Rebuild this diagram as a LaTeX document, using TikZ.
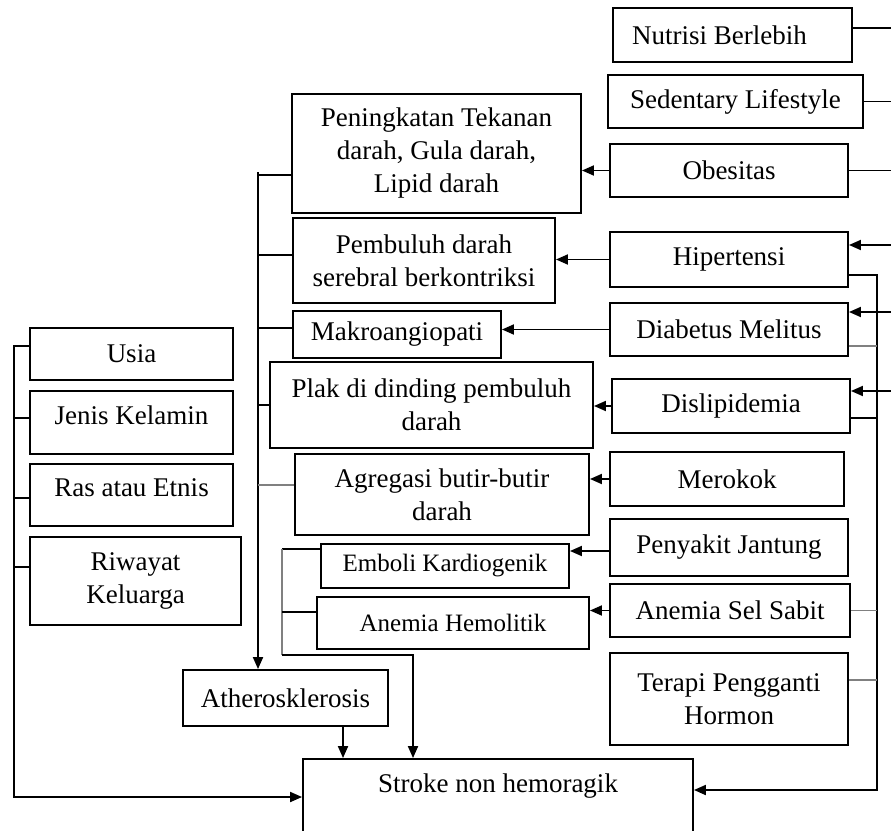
\documentclass[tikz,border=0pt]{standalone}
\usepackage{fontspec}
\setmainfont{Liberation Serif}
\usetikzlibrary{arrows.meta}
\begin{document}
\begin{tikzpicture}[x=1pt,y=-1pt,
  box/.style={draw, line width=1.9pt, inner sep=0pt, align=center, font=\fontsize{27}{33}\selectfont},
  sbox/.style={box, font=\fontsize{25}{30}\selectfont},
  upbit/.style={text height=19pt, text depth=16pt},
  ln/.style={line width=1.9pt},
  arr/.style={ln, -{Triangle[length=12pt,width=10pt]}},
  rarr/.style={ln, {Triangle[length=12pt,width=10pt]}-},
  gr/.style={draw=black!50}]
\useasboundingbox (0,0) rectangle (891,830);
% right column
\node[box, minimum width=239pt, minimum height=54pt] (nutrisi) at (732.5,35) {Nutrisi Berlebih\hspace*{26pt}};
\node[box, minimum width=255pt, minimum height=53pt] (sedentary) at (735.5,101.5) {Sedentary Lifestyle};
\node[box, minimum width=238pt, minimum height=53pt] (obesitas) at (729,170.5) {Obesitas};
\node[box, minimum width=238pt, minimum height=55pt] (hipertensi) at (729,259.5) {Hipertensi};
\node[box, minimum width=238pt, minimum height=53pt] (dm) at (729,329.5) {Diabetus Melitus};
\node[box, minimum width=238pt, minimum height=54pt] (dislip) at (731,406) {Dislipidemia};
\node[box, minimum width=234pt, minimum height=54pt] (merokok) at (727,479) {Merokok};
\node[box, minimum width=238pt, minimum height=57pt] (jantung) at (729,547.5) {Penyakit Jantung};
\node[box, minimum width=240pt, minimum height=53pt] (sabit) at (730,610.5) {Anemia Sel Sabit};
\node[box, minimum width=238pt, minimum height=92pt] (terapi) at (729,699) {Terapi Pengganti\\Hormon};
% middle column
\node[box, minimum width=289pt, minimum height=119pt] (tekanan) at (436.5,153.5) {Peningkatan Tekanan\\darah, Gula darah,\\Lipid darah};
\node[box, minimum width=262pt, minimum height=85pt] (pembuluh) at (424,260.5) {Pembuluh darah\\serebral berkontriksi};
\node[box, minimum width=208pt, minimum height=47pt] (makro) at (397,334.5) {Makroangiopati};
\node[box, minimum width=323pt, minimum height=86pt] (plak) at (431.5,405) {Plak di dinding pembuluh\\darah};
\node[box, minimum width=294pt, minimum height=81pt] (agregasi) at (442,494.5) {Agregasi butir-butir\\darah};
\node[sbox, minimum width=248pt, minimum height=44pt] (emboli) at (445,566) {Emboli Kardiogenik};
\node[sbox, minimum width=272pt, minimum height=52pt] (hemolitik) at (453,623) {Anemia Hemolitik};
\node[box, minimum width=205pt, minimum height=56pt] (athero) at (285.5,698) {Atherosklerosis};
\node[box, minimum width=390pt, minimum height=82pt, text height=20pt, text depth=36pt] (stroke) at (498,800) {Stroke non hemoragik};
% left column
\node[box, minimum width=203pt, minimum height=52pt] (usia) at (131.5,354) {Usia};
\node[box, upbit, minimum width=203pt, minimum height=63pt] (jenis) at (131.5,422.5) {Jenis Kelamin};
\node[box, upbit, minimum width=203pt, minimum height=62pt] (ras) at (131.5,495) {Ras atau Etnis};
\node[box, minimum width=211pt, minimum height=88pt] (riwayat) at (135.5,581) {Riwayat\\Keluarga};

% inputs from the right edge
\draw[ln] ([yshift=7pt]nutrisi.east) -- ++(45,0);
\draw[ln] (sedentary.east) -- ++(35,0);
\draw[ln] (obesitas.east) -- ++(50,0);
\draw[rarr] ([yshift=14.5pt]hipertensi.east) -- ++(50,0);
\draw[rarr] ([yshift=17.5pt]dm.east) -- ++(50,0);
\draw[rarr] ([yshift=15pt]dislip.east) -- ++(50,0);

% right column to middle column
\draw[arr] (obesitas.west) -- (obesitas.west -| tekanan.east);
\draw[arr] (hipertensi.west) -- (hipertensi.west -| pembuluh.east);
\draw[arr] (dm.west) -- (dm.west -| makro.east);
\draw[arr] (dislip.west) -- (dislip.west -| plak.east);
\draw[arr] (merokok.west) -- (merokok.west -| agregasi.east);
\coordinate (jw) at ([yshift=-3.5pt]jantung.west);
\draw[arr] (jw) -- (jw -| emboli.east);
\draw[arr] (sabit.west) -- (sabit.west -| hemolitik.east);

% right bus to stroke
\coordinate (rb) at (877,790);
\draw[arr] ([yshift=-15.5pt]hipertensi.east) -| (rb) -- (rb -| stroke.east);
\coordinate (dmo) at ([yshift=-16.5pt]dm.east);
\draw[ln,gr] (dmo) -- (dmo -| rb);
\coordinate (dlo) at ([yshift=-12pt]dislip.east);
\draw[ln] (dlo) -- (dlo -| rb);
\draw[ln,gr] (sabit.east) -- (sabit.east -| rb);
\coordinate (tpo) at ([yshift=19pt]terapi.east);
\draw[ln,gr] (tpo) -- (tpo -| rb);

% middle bus to atherosklerosis
\coordinate (lbt) at (258,172);
\draw[arr] (lbt) -- (lbt |- athero.north);
\coordinate (b1) at ([yshift=-21.5pt]tekanan.west);
\draw[ln] (b1) -- (b1 -| lbt);
\coordinate (b2) at ([yshift=5.5pt]pembuluh.west);
\draw[ln] (b2) -- (b2 -| lbt);
\coordinate (b3) at ([yshift=6.5pt]makro.west);
\draw[ln] (b3) -- (b3 -| lbt);
\draw[ln] (plak.west) -- (plak.west -| lbt);
\coordinate (b5) at ([yshift=9.5pt]agregasi.west);
\draw[ln,gr] (b5) -- (b5 -| lbt);

% emboli / hemolitik bus to stroke
\coordinate (et) at (282,655);
\coordinate (ed) at (413,655);
\coordinate (ew) at ([yshift=17pt]emboli.west);
\draw[ln] (ew) -- (ew -| et);
\draw[ln,gr] (ew -| et) -- (et);
\draw[arr] (et) -- (ed) -- (ed |- stroke.north);
\coordinate (hw) at ([yshift=11pt]hemolitik.west);
\draw[ln] (hw) -- (hw -| et);

% atherosklerosis to stroke
\coordinate (as) at ([xshift=57.5pt]athero.south);
\draw[arr] (as) -- (as |- stroke.north);

% left bus to stroke
\coordinate (lc) at (14,797);
\coordinate (uw) at ([yshift=8pt]usia.west);
\draw[arr] (uw) -| (lc) -- (lc -| stroke.west);
\coordinate (jk) at ([yshift=4.5pt]jenis.west);
\draw[ln] (jk) -- (jk -| lc);
\coordinate (re) at ([yshift=-3pt]ras.west);
\draw[ln] (re) -- (re -| lc);
\coordinate (rk) at ([yshift=14pt]riwayat.west);
\draw[ln] (rk) -- (rk -| lc);
\end{tikzpicture}
\end{document}
